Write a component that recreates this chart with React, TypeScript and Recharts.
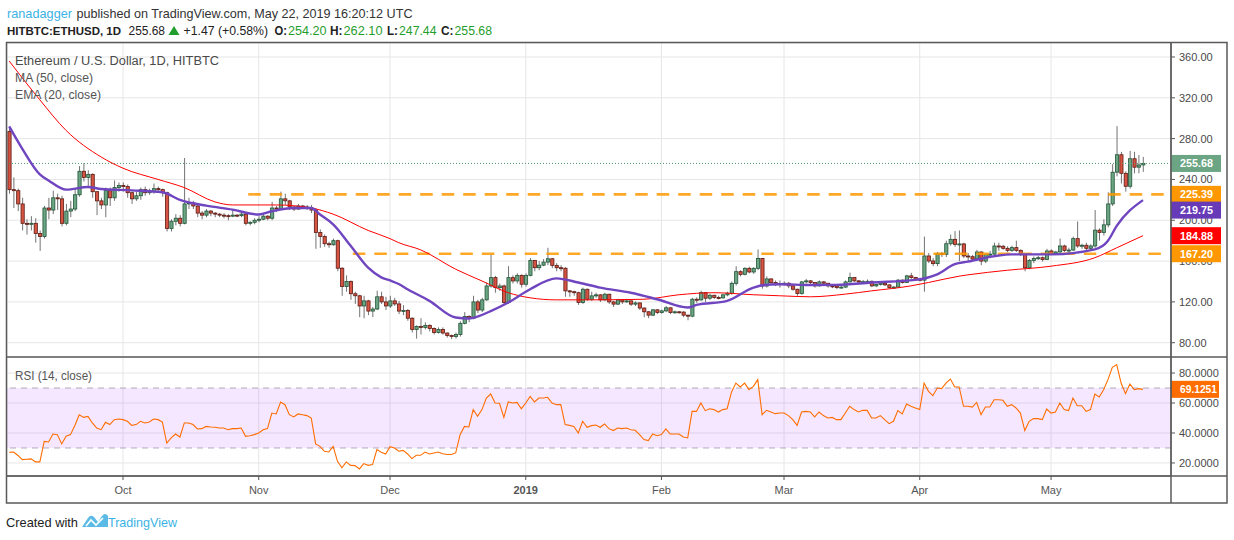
import React from 'react';
import { ComposedChart, Bar, Line, XAxis, YAxis, CartesianGrid, ReferenceLine, ReferenceArea } from 'recharts';

// daily candles, HITBTC:ETHUSD, 2018-09-05 .. 2019-05-22 (open = previous close)
const firstOpen = 287;

const closes = [
  230, 229, 216, 197, 196, 197, 187, 184, 212, 210,
  222, 221, 197, 209, 211, 225, 248, 242, 245, 228,
  219, 215, 229, 222, 232, 234, 233, 227, 221, 224,
  230, 227, 228, 231, 230, 227, 192, 199, 202, 197,
  216, 217, 214, 207, 205, 209, 207, 206, 205, 204.5,
  204, 205, 204.5, 206, 197, 198, 200, 201, 204, 202,
  212, 211, 221, 219, 213, 211, 214, 213, 212, 210,
  188, 184, 177, 176, 180, 153, 135, 140, 128, 126,
  116, 121, 111, 113, 125, 120, 116, 121, 118, 111,
  111.6, 104, 93, 96, 95, 97, 94, 90, 93, 89.5,
  87, 86, 88, 99, 105.7, 104, 120, 112, 122, 135.6,
  143.8, 134, 135.6, 119.4, 143.8, 140.5, 146, 137.3, 146, 160.7,
  153.5, 156, 159, 162.3, 155.8, 153.5, 153, 130.8, 130, 129,
  119.4, 132.4, 122.6, 125.9, 126.9, 122, 127.5, 120, 117.8, 122,
  120, 121, 117.8, 119, 114, 110.3, 107, 112.2, 109.6, 111.2,
  114.2, 109.6, 110.3, 110, 107, 106, 122.6, 122, 129.1, 123.6,
  126.5, 124.3, 124, 126.9, 128.5, 138.2, 149.6, 147, 152.9, 149.3,
  152.9, 162.6, 135.6, 142.5, 139, 137, 138, 138.3, 135.7, 132.4,
  128.2, 139.6, 140.6, 139, 135.7, 139.6, 138.3, 135.7, 135.5, 134.1,
  134.5, 139.6, 143.9, 140.6, 139.6, 139.8, 140.2, 135.7, 137, 138.3,
  136.7, 134.1, 134.5, 141.3, 139, 145.5, 143.9, 142.2, 141.3, 165,
  160.1, 157.5, 167.3, 166.6, 177, 181.3, 176.4, 176.8, 165, 164.3,
  162, 168.9, 160, 166.6, 166.8, 174.8, 174.5, 172.5, 170.5, 173.2,
  170.5, 166.6, 153.4, 160.7, 162.6, 163.3, 161.6, 169.9, 167.3, 168.9,
  174.8, 170.5, 170.8, 182, 174.8, 175.5, 172.5, 174.8, 190.3, 188,
  195.5, 216, 247.1, 264.2, 246, 233.3, 260.3, 252, 254.2, 255.68,
];

const highs = [
  291, 242, 231, 222, 201, 204, 202, 190, 214, 222,
  229, 226, 224, 216, 219, 231, 253, 256, 249, 246,
  228, 222, 232, 232, 239, 237, 237, 235, 228, 228,
  232, 233, 231, 236, 233, 231, 228, 201, 206, 205,
  261, 222, 219, 215, 209, 211, 210, 208, 207, 207,
  206, 210, 206, 208, 207, 199, 202, 204, 206, 205,
  218, 214, 228, 226, 220, 214, 216, 215, 215, 215,
  212, 191, 186, 179, 182, 181, 154, 146, 141, 130,
  127, 126, 122, 115, 131, 130, 125, 126, 124, 121,
  116.8, 113, 105, 97, 104, 100, 98, 95, 95, 95,
  90, 88, 90, 101, 110, 107, 126, 122, 124, 139,
  166.5, 145.5, 138, 137, 155, 146, 148, 147, 148, 163,
  161, 160, 162, 173, 163, 158, 156, 154, 131.5, 131,
  130, 134, 133, 130, 129, 127.5, 129, 128, 121, 123,
  122.5, 123, 121.5, 120.5, 119.5, 114.5, 111, 113, 113, 112.5,
  116, 114.5, 111.5, 111, 111, 107.5, 124, 124.5, 131, 129.5,
  128, 127, 126, 128, 130, 140, 155, 151, 154, 154.5,
  154, 171.4, 163, 145, 143, 141, 141, 140, 139.5, 136,
  133, 140.5, 142.5, 141.5, 139.5, 141, 140.5, 138.5, 137, 136,
  136, 141, 148.7, 144, 141.5, 141.5, 142, 141, 138, 139.5,
  139, 137, 135.5, 142.5, 142, 146.5, 148.5, 144.5, 143, 184,
  168, 163, 169, 169, 180, 186, 189.4, 190, 178, 168,
  166, 171, 169.5, 167.5, 170, 178, 178, 176, 174.5, 175,
  180, 171.5, 167, 162, 164.5, 165, 164.5, 172, 171.5, 170,
  182, 176, 173, 184, 198.8, 177, 178, 176.5, 210, 192,
  201, 227.4, 255, 292.2, 267, 248, 268, 267, 264, 262.1,
];

const lows = [
  226, 212, 209, 190, 186, 190, 178, 170, 182, 201,
  206, 210, 194, 195, 203, 209, 223, 238, 233, 222,
  205, 211, 203, 214, 219, 228, 228, 222, 216, 219,
  220, 224, 225, 226, 227, 223, 189, 189, 195, 194,
  196, 211, 211, 203, 201, 203, 204, 203, 203, 202,
  200, 203, 203, 203, 195, 195, 196, 198, 200, 200,
  200, 208, 210, 215, 210, 209, 210, 211, 210, 207,
  172, 173, 174, 173, 175, 150, 126, 130, 122, 118,
  105, 104, 107, 105, 112, 118, 112, 114, 116, 108,
  107, 101.5, 90, 84, 88, 93, 91, 88, 89, 88,
  85, 83.5, 84, 86, 98, 100, 103, 109, 110, 121,
  134, 129, 131, 117, 118, 138, 138, 134, 135, 145,
  150, 151, 155, 156, 153, 150, 150, 125, 125, 126,
  117, 118, 121, 121, 124, 120, 121, 118, 115, 117,
  118, 119, 116, 116, 112, 105, 104, 106, 108, 108.5,
  110, 108, 108.5, 108.5, 105, 102, 105, 119, 121, 120,
  122, 123, 122.5, 123, 125.5, 127, 136, 145, 146, 148,
  147.5, 151, 133, 134, 137, 135.5, 134, 136, 133.5, 131,
  126, 127, 138, 137.5, 134, 135, 137, 134, 133.5, 132.5,
  133, 133.5, 139, 139.5, 138, 138.5, 138.5, 134.5, 134.5, 136,
  135.5, 133, 133, 134, 138, 138.5, 142.5, 141, 140, 130,
  158, 155, 155, 164, 164, 175, 174, 160, 163, 160,
  160, 160, 156, 158, 165, 166, 170, 171, 168.5, 169,
  169, 165, 150, 152, 158, 161, 159.5, 161, 166, 166,
  168, 169, 168, 170, 173, 172, 170.5, 171, 173, 180,
  185, 193, 214, 243, 236, 228, 231, 246, 246, 247.44,
];

// MA (50) and EMA (20) at [day, value]
const ma50Points: [number, number][] = [
  [0, 356], [7, 318], [13, 288], [21, 262], [26, 251], [34, 240], [40, 232], [47, 218],
  [51, 215], [61, 215], [69, 212], [74, 206], [82, 190], [87, 182], [89, 178], [94, 171],
  [102, 152], [108, 140.5], [114, 129], [119, 124], [125, 122], [133, 122], [145, 122.6],
  [153, 127], [161, 129], [170, 127], [176, 126], [183, 125], [191, 127.6], [197, 130.8],
  [206, 135.7], [210, 139], [217, 145.2], [219, 146.5], [228, 151], [238, 155], [248, 163.3],
  [253, 173], [259, 184.88],
];

const ema20Points: [number, number][] = [
  [0, 292], [3, 270], [7, 245], [9, 239], [13, 230], [18, 232.6], [21, 230.6], [28, 229.3],
  [35, 227.4], [39, 220], [45, 214.3], [51, 210.4], [57, 205.6], [60, 208.8], [65, 212],
  [69, 212], [71, 205.6], [74, 196], [78, 175], [82, 153.5], [85, 144], [87, 141], [89, 137.5],
  [91, 132.4], [96, 121], [102, 104.7], [105, 103.8], [110, 111], [114, 119.4], [119, 132.4],
  [125, 143], [130, 139], [135, 134], [142, 129], [148, 122.6], [155, 114.5], [157, 117],
  [164, 121], [170, 134], [172, 136.3], [176, 137.3], [183, 136.5], [189, 136.7], [197, 139],
  [207, 141.6], [212, 147], [216, 157], [219, 159.5], [229, 166.6], [238, 166.6], [248, 171.5],
  [251, 180], [253, 194.5], [259, 219.75],
];

const rsiValues = [
  27.1, 27.3, 25, 22.2, 22.5, 22.7, 20.7, 20.7, 34.4, 34,
  39.3, 38.9, 32.7, 37.8, 38.9, 45, 52.2, 50.4, 51.1, 46.7,
  43.3, 42.2, 47.1, 45.6, 48.9, 49.3, 48.9, 47.8, 45.1, 45.6,
  47.8, 46.7, 47.3, 49.3, 48.9, 47.3, 33.3, 36.7, 39.3, 37.3,
  46.7, 46.7, 45.6, 42.7, 42.9, 44.4, 44, 43.8, 43.3, 43.3,
  42.2, 42.9, 42.9, 43.3, 37.8, 38.2, 38.9, 40, 42.2, 42.9,
  53.3, 52.7, 60.7, 58.9, 52.2, 50.7, 52.7, 52.2, 51.6, 50,
  32.7, 31.1, 27.8, 27.3, 31.1, 21.1, 16.7, 20.7, 18.4, 18.2,
  16, 19.6, 18.4, 18.9, 28.9, 27.1, 26, 30.9, 30, 27.8,
  28.4, 26, 22.9, 25.1, 25.1, 27.3, 26, 26.7, 27.3, 26.2,
  25.6, 25.6, 26.7, 38.9, 44.4, 44, 55.6, 51.1, 55.6, 63.3,
  66, 60, 59.8, 50.4, 60.7, 60, 60.4, 56.2, 60, 64.4,
  60.7, 63.3, 63.3, 63.8, 60, 58.9, 58.9, 45.6, 45.1, 44.4,
  40, 47.8, 43.8, 44.9, 45.3, 43.8, 46, 42.9, 41.6, 43.3,
  42.9, 43.3, 42.2, 41.8, 38.9, 35.6, 34.9, 39.3, 38.2, 38.9,
  42.7, 39.3, 39.3, 39.3, 37.3, 36.7, 54.4, 54.4, 60, 54.9,
  56.2, 55.6, 54, 55.6, 56.2, 67.3, 73.3, 70.7, 73.3, 68.9,
  71.1, 75.6, 52.2, 55.1, 54, 52.9, 53.3, 53.3, 51.6, 48.9,
  45.1, 54, 54.4, 54, 50.7, 54, 51.6, 50, 50.4, 48.9,
  48.9, 53.3, 57.8, 55.6, 54, 55.1, 55.1, 50, 50, 51.6,
  48.9, 46.2, 47.8, 54.9, 52.7, 59.3, 57.8, 56.7, 55.6, 73.3,
  67.8, 64.9, 70, 69.6, 73.3, 76, 70.7, 70.7, 57.8, 57.8,
  57.3, 60.4, 52.2, 57.3, 57.3, 62.2, 62.2, 61.8, 57.8, 58.9,
  56.7, 53.3, 41.6, 47.8, 49.6, 49.6, 48.9, 56, 53.3, 54,
  60, 55.6, 54.9, 63.3, 58.2, 58.2, 54.4, 55.6, 66, 64,
  68.9, 75.6, 83.8, 85.6, 73.3, 66.2, 72.7, 68.9, 69.6, 69.1251,
];

const priceTicks = [80, 120, 160, 200, 240, 280, 320, 360];
const rsiTicks = [20, 40, 60, 80];
const monthTicks = [26, 57, 87, 118, 149, 177, 208, 238];
const monthLabels = ['Oct', 'Nov', 'Dec', '2019', 'Feb', 'Mar', 'Apr', 'May'];

// horizontal levels drawn on the chart: value and the day they start from
const levelValues = [225.39, 167.2];
const levelStart = [54.6, 78.5];

// price tags on the right scale
const tagValues = [255.68, 225.39, 219.75, 184.88, 167.2];
const tagColors = ['#6ba583', '#ff9800', '#673ab7', '#ff0000', '#ff9800'];
const tagNudge = [0, 0, 10, 0, 0];

const lastClose = closes[closes.length - 1];
const lastRsi = rsiValues[rsiValues.length - 1];

const maMap = new Map(ma50Points);
const emaMap = new Map(ema20Points);

const rows = closes.map((c, i) => ({
  i,
  o: i === 0 ? firstOpen : closes[i - 1],
  c,
  h: highs[i],
  l: lows[i],
  range: [lows[i], highs[i]],
  ma: maMap.has(i) ? maMap.get(i) : null,
  ema: emaMap.has(i) ? emaMap.get(i) : null,
  rsi: rsiValues[i],
}));

const FONT = "'Liberation Sans', Arial, sans-serif";
const X_DOMAIN: [number, number] = [-0.5, 265.4];
const PRICE_DOMAIN: [number, number] = [66, 373.7];
const GREEN = '#1f9e2c';

const Candle = (props: any) => {
  const { x, y, width, height, payload } = props;
  if (x == null || y == null || height == null) return null;
  const { o, c, h, l } = payload;
  const cx = x + width / 2;
  const top0 = Math.min(y, y + height);
  const span = Math.abs(height);
  const k = span / (h - l || 1);
  const bodyTop = top0 + (h - Math.max(o, c)) * k;
  const bodyBot = top0 + (h - Math.min(o, c)) * k;
  const up = c >= o;
  return (
    <g>
      <line x1={cx} x2={cx} y1={top0} y2={top0 + span} stroke="#737375" strokeWidth={1} />
      <rect
        x={cx - 1.6}
        y={bodyTop}
        width={3.2}
        height={Math.max(bodyBot - bodyTop, 1)}
        fill={up ? '#6ba583' : '#d75442'}
        stroke={up ? '#225437' : '#5b1a13'}
        strokeWidth={0.8}
      />
    </g>
  );
};

const Tag = ({ viewBox, text, fill, nudge = 0, w = 50, tw = 33 }: any) => {
  if (!viewBox) return null;
  const x = viewBox.x + viewBox.width;
  const y = viewBox.y + nudge;
  return (
    <g>
      <rect x={x} y={y - 8.5} width={w} height={17} fill={fill} />
      <text x={x + 9} y={y + 4} fill="#fff" fontSize={11} fontWeight="bold" fontFamily={FONT} textLength={tw} lengthAdjust="spacingAndGlyphs">
        {text}
      </text>
    </g>
  );
};

const MonthTick = ({ x, y, payload }: any) => {
  const label = monthLabels[monthTicks.indexOf(payload.value)];
  return (
    <text x={x} y={y + 12} textAnchor="middle" fontSize={11} fill="#555" fontFamily={FONT} fontWeight={label === '2019' ? 'bold' : 'normal'}>
      {label}
    </text>
  );
};

const PriceChart = () => (
  <ComposedChart width={1221} height={314} data={rows} margin={{ top: 0, right: 0, bottom: 0, left: 1 }}>
    <CartesianGrid stroke="#e6e6e6" />
    <XAxis type="number" dataKey="i" domain={X_DOMAIN} allowDataOverflow ticks={monthTicks} hide />
    <YAxis
      orientation="right"
      width={56}
      domain={PRICE_DOMAIN}
      allowDataOverflow
      ticks={priceTicks}
      tickFormatter={(v: number) => v.toFixed(2)}
      tick={{ fill: '#4a4a4a', fontSize: 11, fontFamily: FONT }}
      tickSize={4}
      tickMargin={4}
      axisLine={{ stroke: '#555' }}
      tickLine={{ stroke: '#555' }}
    />
    <ReferenceLine y={lastClose} stroke="#4f9a72" strokeDasharray="1 2" strokeWidth={1} />
    {levelValues.map((v, k) => (
      <ReferenceLine
        key={v}
        segment={[{ x: levelStart[k], y: v }, { x: X_DOMAIN[1] - 1, y: v }]}
        stroke="#ff9800"
        strokeOpacity={0.85}
        strokeWidth={2.6}
        strokeDasharray="12.5 9"
      />
    ))}
    <Bar dataKey="range" barSize={3} shape={Candle} isAnimationActive={false} />
    <Line dataKey="ma" type="monotone" stroke="#ff0000" strokeWidth={1} dot={false} activeDot={false} connectNulls isAnimationActive={false} />
    <Line dataKey="ema" type="monotone" stroke="#6f45c0" strokeWidth={2.4} dot={false} activeDot={false} connectNulls isAnimationActive={false} />
  </ComposedChart>
);

// same scales as the price pane, drawn on top so the tags cover the tick labels
const PriceTags = () => (
  <ComposedChart width={1221} height={314} data={rows} margin={{ top: 0, right: 0, bottom: 0, left: 1 }}>
    <XAxis type="number" dataKey="i" domain={X_DOMAIN} allowDataOverflow hide />
    <YAxis orientation="right" width={56} domain={PRICE_DOMAIN} allowDataOverflow tick={false} axisLine={false} tickLine={false} />
    {tagValues.map((v, k) => (
      <ReferenceLine
        key={'tag' + k}
        y={v}
        stroke="none"
        label={(p: any) => <Tag {...p} text={v.toFixed(2)} fill={tagColors[k]} nudge={tagNudge[k]} />}
      />
    ))}
  </ComposedChart>
);

const RsiChart = () => (
  <ComposedChart width={1221} height={146} data={rows} margin={{ top: 0, right: 0, bottom: 0, left: 1 }}>
    <CartesianGrid stroke="#e6e6e6" />
    <ReferenceArea y1={30} y2={70} fill="#9915ff" fillOpacity={0.1} stroke="none" />
    <ReferenceLine y={70} stroke="#b3a8bb" strokeDasharray="6 5" />
    <ReferenceLine y={30} stroke="#b3a8bb" strokeDasharray="6 5" />
    <XAxis
      type="number"
      dataKey="i"
      domain={X_DOMAIN}
      allowDataOverflow
      ticks={monthTicks}
      height={27}
      tick={MonthTick}
      tickSize={4}
      tickMargin={2}
      axisLine={{ stroke: '#555' }}
      tickLine={{ stroke: '#555' }}
    />
    <YAxis
      orientation="right"
      width={56}
      domain={[11.3, 90.7]}
      allowDataOverflow
      ticks={rsiTicks}
      tickFormatter={(v: number) => v.toFixed(4)}
      tick={{ fill: '#4a4a4a', fontSize: 11, fontFamily: FONT }}
      tickSize={4}
      tickMargin={4}
      axisLine={{ stroke: '#555' }}
      tickLine={{ stroke: '#555' }}
    />
    <Line dataKey="rsi" type="linear" stroke="#ff6d00" strokeWidth={1.1} dot={false} activeDot={false} isAnimationActive={false} />
    <ReferenceLine
      y={lastRsi}
      stroke="none"
      label={(p: any) => <Tag {...p} text={lastRsi.toFixed(4)} fill="#ff6d00" w={48} tw={37} />}
    />
  </ComposedChart>
);

const Txt = ({ x, y, w, children, ...rest }: any) => (
  <text x={x} y={y} textLength={w} lengthAdjust="spacingAndGlyphs" {...rest}>
    {children}
  </text>
);

const Overlay = () => (
  <svg width={1234} height={540} style={{ position: 'absolute', left: 0, top: 0, pointerEvents: 'none' }} fontFamily={FONT}>
    <Txt x={7} y={18} w={65} fontSize={13} fill="#3bb3e4">ranadagger</Txt>
    <Txt x={76.5} y={18} w={336} fontSize={13} fill="#333">published on TradingView.com, May 22, 2019 16:20:12 UTC</Txt>

    <Txt x={7} y={35} w={114} fontSize={11} fill="#222" fontWeight="bold">HITBTC:ETHUSD, 1D</Txt>
    <Txt x={128.5} y={35} w={36.5} fontSize={12} fill="#222">255.68</Txt>
    <polygon points="168.5,35 174,26 179.5,35" fill={GREEN} />
    <Txt x={183.5} y={35} w={84.5} fontSize={12} fill="#222">+1.47 (+0.58%)</Txt>
    <Txt x={274.5} y={35} w={12.5} fontSize={12} fill="#222" fontWeight="bold">O:</Txt>
    <Txt x={288} y={35} w={38.5} fontSize={12} fill={GREEN}>254.20</Txt>
    <Txt x={330} y={35} w={12.5} fontSize={12} fill="#222" fontWeight="bold">H:</Txt>
    <Txt x={343.5} y={35} w={39} fontSize={12} fill={GREEN}>262.10</Txt>
    <Txt x={387} y={35} w={11} fontSize={12} fill="#222" fontWeight="bold">L:</Txt>
    <Txt x={399} y={35} w={37.5} fontSize={12} fill={GREEN}>247.44</Txt>
    <Txt x={441} y={35} w={12.5} fontSize={12} fill="#222" fontWeight="bold">C:</Txt>
    <Txt x={454.5} y={35} w={37.5} fontSize={12} fill={GREEN}>255.68</Txt>

    <Txt x={15} y={65} w={204} fontSize={12} fill="#4a4a4a">Ethereum / U.S. Dollar, 1D, HITBTC</Txt>
    <Txt x={15} y={82} w={78} fontSize={12} fill="#555">MA (50, close)</Txt>
    <Txt x={15} y={99} w={86} fontSize={12} fill="#555">EMA (20, close)</Txt>
    <Txt x={15} y={380} w={77} fontSize={12} fill="#555">RSI (14, close)</Txt>

    <rect x={6.5} y={42.5} width={1220.5} height={460.5} fill="none" stroke="#5a5a5a" strokeWidth={1.5} />
    <line x1={1171} x2={1171} y1={42.5} y2={503} stroke="#5a5a5a" strokeWidth={1.5} />
    <line x1={6.5} x2={1227} y1={357} y2={357} stroke="#5a5a5a" strokeWidth={1.5} />
    <line x1={6.5} x2={1227} y1={476} y2={476} stroke="#5a5a5a" strokeWidth={1.5} />

    <Txt x={6} y={527} w={72} fontSize={13} fill="#222">Created with</Txt>
    <path d="M82 527 L88 518 Q91 514 94 517 L98 522 L102 516 Q105 512 108 516 L108 527 Z" fill="#5bbbe6" />
    <path d="M86 526 L91 520 L96 525 L103 518" fill="none" stroke="#fff" strokeWidth={1.6} />
    <Txt x={108} y={527} w={69} fontSize={13} fill="#3bb3e4">TradingView</Txt>
  </svg>
);

export default function App() {
  return (
    <div style={{ position: 'absolute', left: 0, top: 0, width: 1234, height: 540, background: '#fff', fontFamily: FONT }}>
      <div style={{ position: 'absolute', left: 6, top: 43 }}>
        <PriceChart />
      </div>
      <div style={{ position: 'absolute', left: 6, top: 357 }}>
        <RsiChart />
      </div>
      <div style={{ position: 'absolute', left: 6, top: 43 }}>
        <PriceTags />
      </div>
      <Overlay />
    </div>
  );
}
